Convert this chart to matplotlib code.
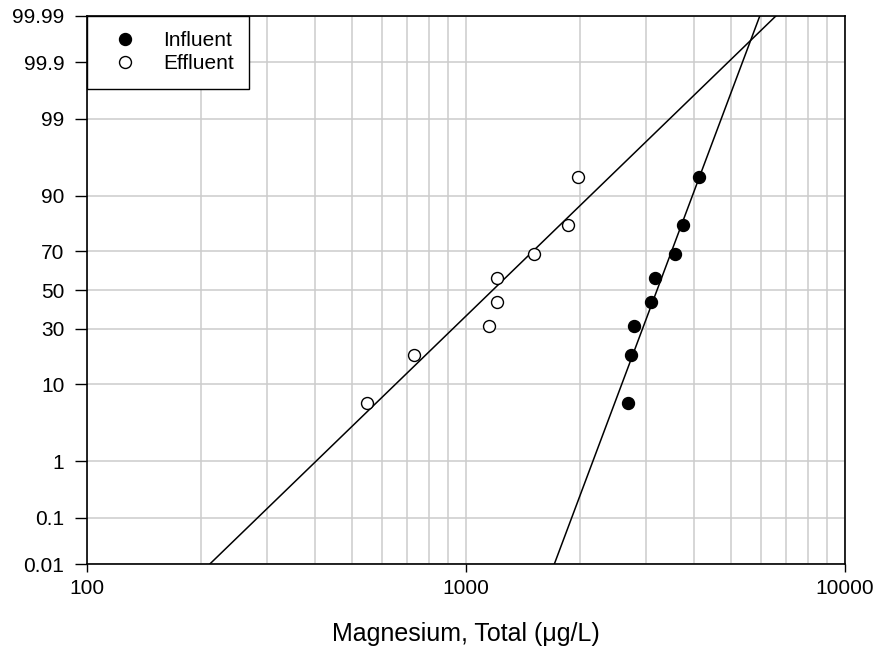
import numpy as np
import matplotlib
matplotlib.use("Agg")
import matplotlib.pyplot as plt
from matplotlib import ticker
from statistics import NormalDist

plt.rcParams['font.family'] = ['Liberation Sans', 'DejaVu Sans']

# plotting positions (percent) for the 8 ranked samples
prob = [6.25, 18.75, 31.25, 43.75, 56.25, 68.75, 81.25, 93.75]

# ug/L
influent = [2688, 2730, 2776, 3083, 3165, 3573, 3752, 4120]
effluent = [548, 731, 1154, 1207, 1207, 1512, 1858, 1982]

yticks = [0.01, 0.1, 1, 10, 30, 50, 70, 90, 99, 99.9, 99.99]
xticks = [100, 1000, 10000]

nd = NormalDist()
_ppf = np.vectorize(nd.inv_cdf, otypes=[float])
_cdf = np.vectorize(nd.cdf, otypes=[float])


def _fwd(p):
    p = np.clip(np.asarray(p, dtype=float) / 100.0, 1e-9, 1 - 1e-9)
    return _ppf(p)


def _inv(z):
    return _cdf(np.asarray(z, dtype=float)) * 100.0


def fit_line(x, p):
    # regress z on log10(x), like the original probability plot
    lx = np.log10(x)
    z = _fwd(p)
    a, b = np.polyfit(lx, z, 1)
    zz = np.linspace(-4.2, 4.2, 200)
    return 10 ** ((zz - b) / a), _inv(zz)


fig = plt.figure(figsize=(8.78, 6.61), dpi=100)
ax = fig.add_axes([0.0987, 0.1467, 0.8633, 0.8291])

ax.set_xscale('log')
ax.set_yscale('function', functions=(_fwd, _inv))
ax.set_xlim(100, 10000)
ax.set_ylim(0.01, 99.99)

ax.grid(True, which='both', axis='x', color='#cccccc', lw=1.1)
ax.grid(True, which='major', axis='y', color='#cccccc', lw=1.1)
ax.set_axisbelow(True)

lx, ly = fit_line(influent, prob)
ax.plot(lx, ly, color='black', lw=1.1)
lx, ly = fit_line(effluent, prob)
ax.plot(lx, ly, color='black', lw=1.1)

ax.plot(influent, prob, 'o', ms=8.6, mfc='black', mec='black', mew=1, ls='none', label='Influent')
ax.plot(effluent, prob, 'o', ms=8.6, mfc='white', mec='black', mew=1, ls='none', label='Effluent')

ax.set_yticks(yticks)
ax.yaxis.set_major_formatter(ticker.FuncFormatter(lambda v, pos: '%g' % v))
ax.yaxis.set_minor_locator(ticker.NullLocator())
ax.set_xticks(xticks)
ax.xaxis.set_major_formatter(ticker.FuncFormatter(lambda v, pos: '%g' % v))
ax.xaxis.set_minor_locator(ticker.LogLocator(base=10, subs=np.arange(2, 10)))
ax.xaxis.set_minor_formatter(ticker.NullFormatter())

ax.tick_params(axis='y', which='major', length=8.6, width=1, pad=7.5, labelsize=15)
ax.tick_params(axis='x', which='major', length=5.8, width=1, pad=5, labelsize=15)
ax.tick_params(which='minor', length=0)

for s in ax.spines.values():
    s.set_linewidth(1.2)

ax.set_xlabel('Magnesium, Total (\u03bcg/L)', fontsize=18, labelpad=17)

leg = ax.legend(loc='upper left', borderaxespad=0, fontsize=15, frameon=True,
                fancybox=False, edgecolor='black', framealpha=1,
                borderpad=0.73, labelspacing=0.2, handlelength=2.2, handletextpad=0.73)
leg.get_frame().set_linewidth(1.0)

fig.savefig('out.png', dpi=100)
